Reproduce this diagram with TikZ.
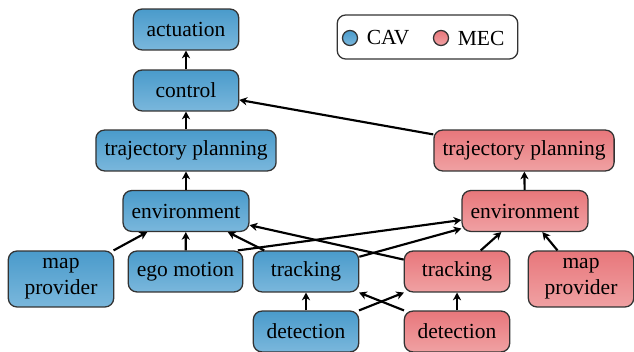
\documentclass[tikz,border=0pt]{standalone}
\usepackage{fontspec}
\setmainfont{Liberation Serif}
\usetikzlibrary{positioning,arrows.meta}
\definecolor{cavtop}{HTML}{4A9BCB}
\definecolor{cavbottom}{HTML}{7AB7DC}
\definecolor{mectop}{HTML}{E8777B}
\definecolor{mecbottom}{HTML}{F0A1A3}
\tikzset{
  block/.style = {
    draw=black!80, line width=0.6pt, rounded corners=4pt, align=center,
    minimum width=49pt, minimum height=19pt, inner xsep=4pt, inner ysep=2.5pt
  },
  cavshade/.style = {top color=cavtop, bottom color=cavbottom},
  mecshade/.style = {top color=mectop, bottom color=mecbottom},
  cav/.style = {block, cavshade},
  mec/.style = {block, mecshade},
  dot/.style = {circle, draw=black!80, line width=0.6pt, minimum size=7pt, inner sep=0pt},
  flow/.style = {->, line width=1pt}
}
\tikzset{>={Stealth[length=3.6pt,width=3.8pt,inset=1.1pt]}}

\begin{document}
\begin{tikzpicture}[x=0.4651pt,y=-0.4651pt]
  \useasboundingbox (0,0) rectangle (634,352);
  \pgfmathsetmacro{\xcav}{186}        % x position of CAV stack
  \pgfmathsetmacro{\xmec}{525}        % x position of MEC stack
  \pgfmathsetmacro{\xtrl}{306}        % x position of CAV tracking
  \pgfmathsetmacro{\xtrr}{457}        % x position of MEC tracking
  % CAV stack
  \node[cav] (actL)   at ({\xcav},29.5)  {actuation};
  \node[cav] (ctrlL)  at ({\xcav},90.5)  {control};
  \node[cav] (trajL)  at ({\xcav},150.5) {trajectory planning};
  \node[cav] (envL)   at ({\xcav},211)   {environment};
  % CAV inputs
  \node[cav,minimum height=26pt] (mapL) at (61,279) {map\\provider};
  \node[cav] (egoL)   at (185.5,271.5)   {ego motion};
  \node[cav] (trackL) at ({\xtrl},271.5) {tracking};
  \node[cav] (detL)   at ({\xtrl},331.5) {detection};
  % MEC stack
  \node[mec] (trajR)  at ({\xmec-1},150.5) {trajectory planning};
  \node[mec] (envR)   at ({\xmec},211)   {environment};
  % MEC inputs
  \node[mec] (trackR) at ({\xtrr},271.5) {tracking};
  \node[mec] (detR)   at ({\xtrr},331.5) {detection};
  \node[mec,minimum height=26pt] (mapR) at (581,279) {map\\provider};
  % legend
  \node[draw=black!80,line width=0.6pt,rounded corners=4pt,minimum width=84pt,minimum height=20.5pt] (legend) at (427.5,37) {};
  \node[dot,cavshade] (cavdot) at (350,38) {};
  \node[right=0.5pt of cavdot] (cavlabel) {CAV};
  \node[dot,mecshade] (mecdot) at (441,38) {};
  \node[right=0.5pt of mecdot] (meclabel) {MEC};
  % CAV flow
  \draw[flow] (ctrlL) -- (actL);
  \draw[flow] (trajL) -- (ctrlL);
  \draw[flow] (envL) -- (trajL);
  \draw[flow] (mapL) -- (envL);
  \draw[flow] (egoL) -- (envL);
  \draw[flow] (trackL) -- (envL);
  \draw[flow] (detL) -- (trackL);
  % MEC flow
  \draw[flow] (detR) -- (trackR);
  \draw[flow] (trackR) -- (envR);
  \draw[flow] (mapR) -- (envR);
  \draw[flow] (envR) -- (trajR);
  % cross links
  \draw[flow] (detL) -- (trackR);
  \draw[flow] (detR) -- (trackL);
  \draw[flow] (trackR) -- (envL);
  \draw[flow] (trackL) -- (envR);
  \draw[flow] ([xshift=-2.6pt]egoL.north east) -- ([yshift=-4.2pt]envR.west);
  \draw[flow] (trajR) -- (ctrlL);
\end{tikzpicture}
\end{document}
